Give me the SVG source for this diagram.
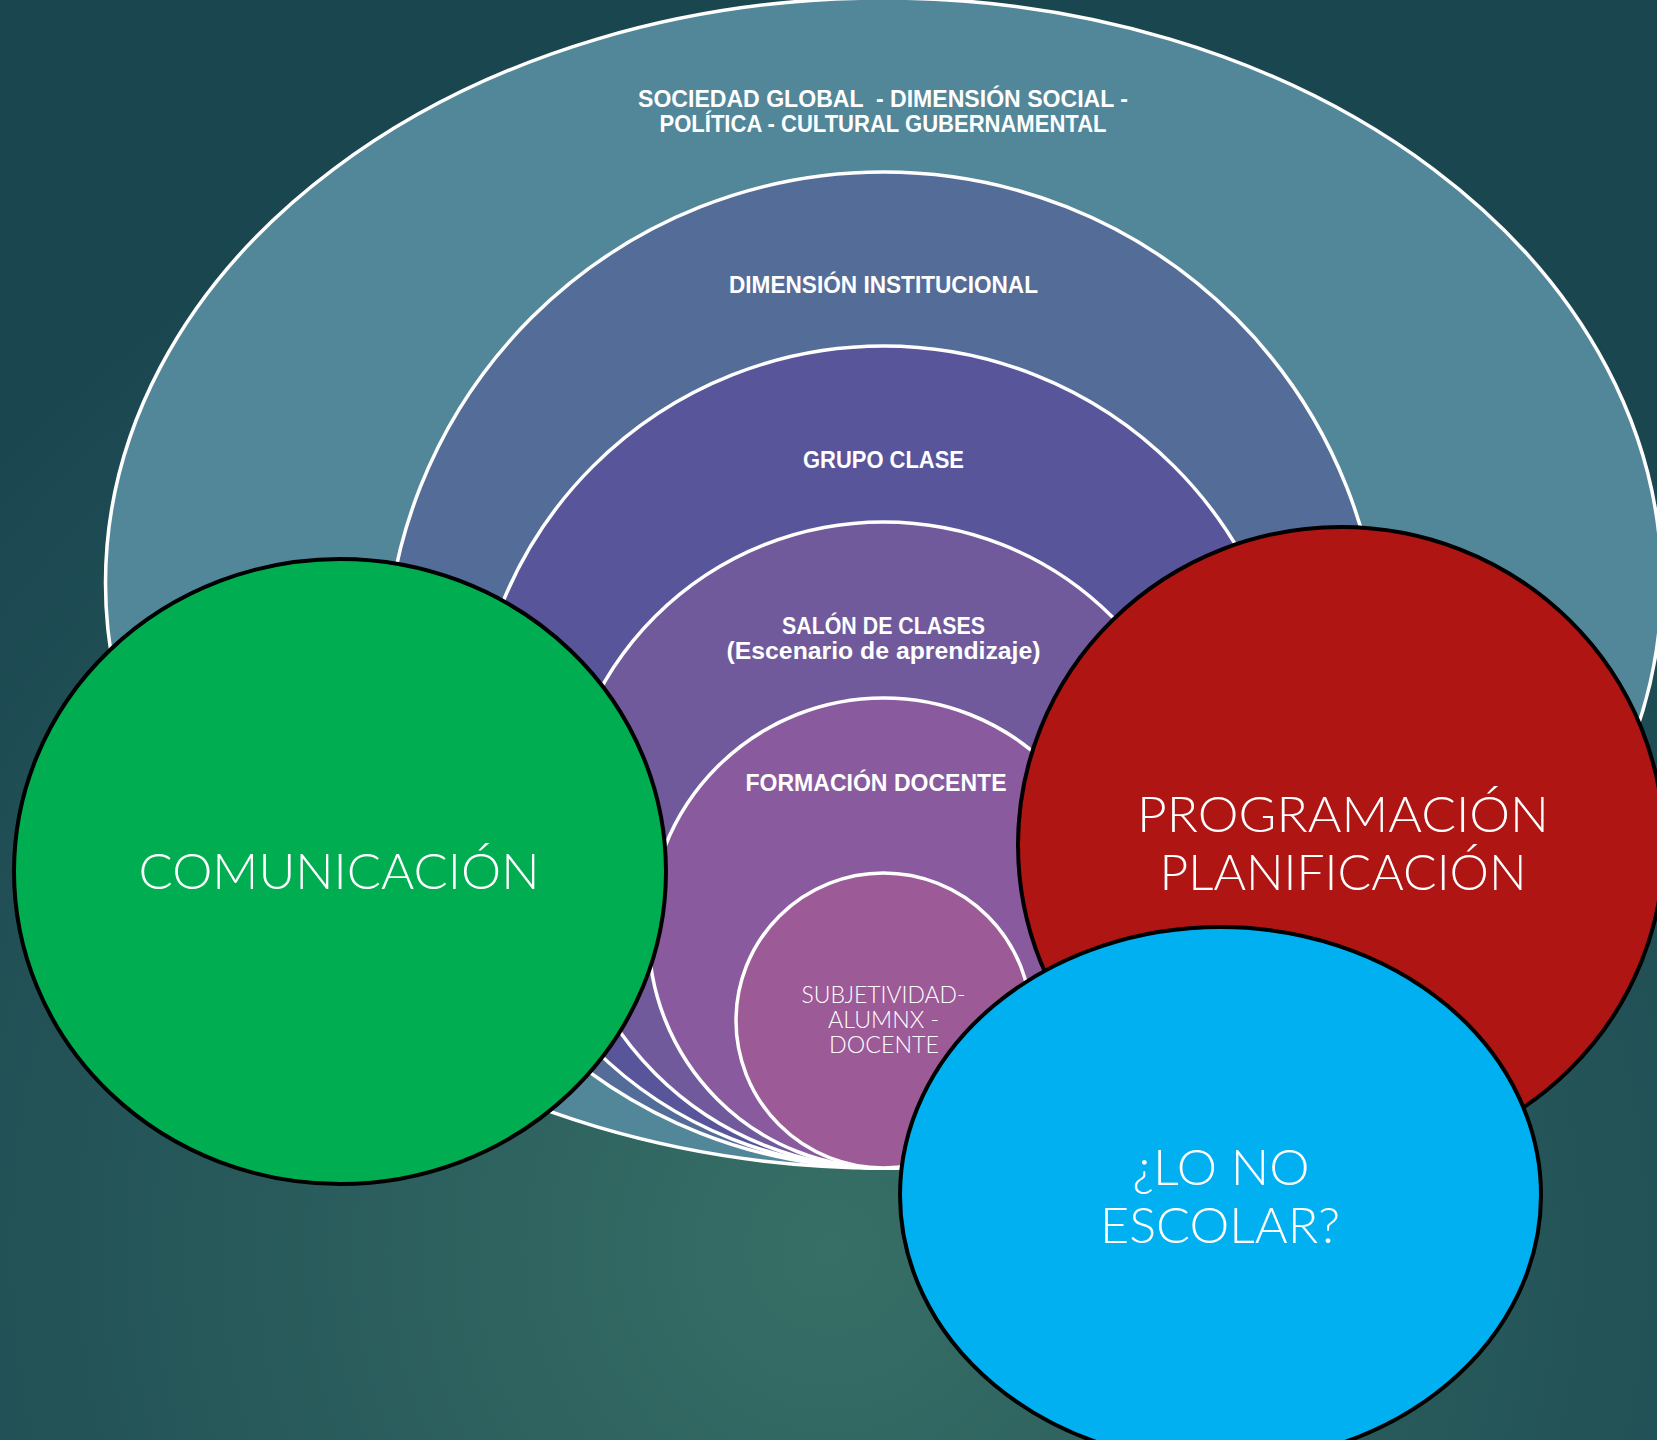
<svg xmlns="http://www.w3.org/2000/svg" width="1657" height="1440" viewBox="0 0 1657 1440">
<defs>
<radialGradient id="bg" cx="830" cy="1250" r="1150" gradientUnits="userSpaceOnUse">
<stop offset="0" stop-color="#376f66"/>
<stop offset="0.5" stop-color="#285a5b"/>
<stop offset="1" stop-color="#1a4650"/>
</radialGradient>
<style>
.ring{stroke:#ffffff;stroke-width:3.5}
.big{stroke:#000000;stroke-width:4}
.hb{font-family:"Liberation Sans","DejaVu Sans",sans-serif;font-weight:bold;font-size:23px;fill:#ffffff;text-anchor:middle}
.lt{font-family:Lato,"Open Sans","Liberation Sans",sans-serif;font-weight:300;fill:#ffffff;text-anchor:middle}
</style>
</defs>
<rect x="0" y="0" width="1657" height="1440" fill="url(#bg)"/>
<g id="sociedad">
<ellipse class="ring" cx="883.5" cy="583" rx="778" ry="585" fill="#52879a"/>
<text class="hb" x="883" y="107" textLength="490" lengthAdjust="spacingAndGlyphs" xml:space="preserve">SOCIEDAD GLOBAL  - DIMENSIÓN SOCIAL -</text>
<text class="hb" x="883" y="132" textLength="447" lengthAdjust="spacingAndGlyphs">POLÍTICA - CULTURAL GUBERNAMENTAL</text>
</g>
<g id="institucional">
<circle class="ring" cx="883.5" cy="670" r="498" fill="#546c98"/>
<text class="hb" x="883.5" y="293" textLength="309" lengthAdjust="spacingAndGlyphs">DIMENSIÓN INSTITUCIONAL</text>
</g>
<g id="grupo">
<circle class="ring" cx="883.5" cy="757" r="411" fill="#58559b"/>
<text class="hb" x="883.5" y="468" textLength="161" lengthAdjust="spacingAndGlyphs">GRUPO CLASE</text>
</g>
<g id="salon">
<circle class="ring" cx="883.5" cy="845" r="323" fill="#705a9b"/>
<text class="hb" x="883.5" y="634" textLength="203" lengthAdjust="spacingAndGlyphs">SALÓN DE CLASES</text>
<text class="hb" x="883.5" y="659" textLength="314" lengthAdjust="spacingAndGlyphs">(Escenario de aprendizaje)</text>
</g>
<g id="formacion">
<circle class="ring" cx="883.5" cy="933" r="235" fill="#895b9e"/>
<text class="hb" x="876" y="791" font-size="22" textLength="261" lengthAdjust="spacingAndGlyphs">FORMACIÓN DOCENTE</text>
</g>
<g id="subjetividad">
<circle class="ring" cx="883.5" cy="1020.5" r="147.5" fill="#9c5a97"/>
<text class="lt" x="883.5" y="1003" font-size="23" textLength="164" lengthAdjust="spacingAndGlyphs">SUBJETIVIDAD-</text>
<text class="lt" x="883.5" y="1028" font-size="23" textLength="111" lengthAdjust="spacingAndGlyphs">ALUMNX -</text>
<text class="lt" x="884" y="1053" font-size="23" textLength="110" lengthAdjust="spacingAndGlyphs">DOCENTE</text>
</g>
<g id="connectors"></g>
<g id="comunicacion">
<ellipse class="big" cx="340" cy="871.5" rx="326" ry="312.5" fill="#00ad50"/>
<text class="lt" x="339" y="889" font-size="50" textLength="401" lengthAdjust="spacingAndGlyphs">COMUNICACIÓN</text>
</g>
<g id="programacion">
<ellipse class="big" cx="1341" cy="845" rx="323" ry="318" fill="#ae1513"/>
<text class="lt" x="1343" y="832" font-size="50" textLength="412" lengthAdjust="spacingAndGlyphs">PROGRAMACIÓN</text>
<text class="lt" x="1343" y="890" font-size="50" textLength="367" lengthAdjust="spacingAndGlyphs">PLANIFICACIÓN</text>
</g>
<g id="noescolar">
<ellipse class="big" cx="1220.5" cy="1195" rx="320.5" ry="268" fill="#00b0f0"/>
<text class="lt" x="1221" y="1185" font-size="49" textLength="177" lengthAdjust="spacingAndGlyphs">¿LO NO</text>
<text class="lt" x="1220" y="1243" font-size="49" textLength="240" lengthAdjust="spacingAndGlyphs">ESCOLAR?</text>
</g>
</svg>
